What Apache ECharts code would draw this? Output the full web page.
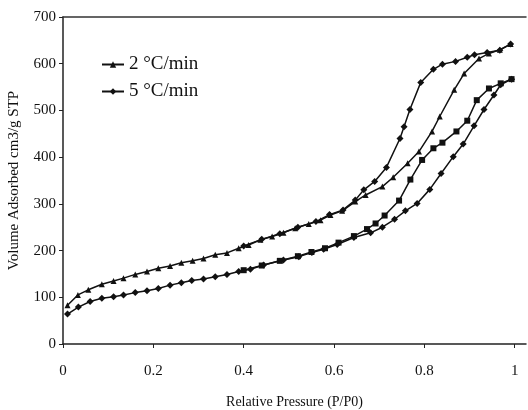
<!DOCTYPE html>
<html>
<head>
<meta charset="utf-8">
<script src="https://cdn.jsdelivr.net/npm/echarts@6/dist/echarts.min.js"></script>
<style>html,body{margin:0;padding:0;background:#fff;}#c{width:528px;height:410px;}</style>
</head>
<body>
<div id="c"></div>
<script>
// Relative pressure (P/P0) and volume adsorbed (cm3/g STP)
var seriesNames = ['2 °C/min', '5 °C/min'];
var xTicks = [0, 0.2, 0.4, 0.6, 0.8, 1];

var a2P = [0.010,0.033,0.056,0.086,0.112,0.134,0.160,0.186,0.211,0.237,0.262,0.287,0.311,0.337,0.363,0.389,0.411,0.437,0.463,0.488,0.514,0.544,0.570,0.592,0.618,0.647,0.670,0.707,0.731,0.763,0.788,0.817,0.834,0.866,0.888,0.921,0.943,0.967,0.991];
var a2V = [83,105,116,128,135,141,149,155,162,167,174,178,183,191,195,205,212,223,230,238,248,257,265,276,285,305,319,337,357,387,412,455,487,544,579,611,622,630,642];

var d2P = [0.991,0.967,0.939,0.911,0.895,0.869,0.840,0.820,0.792,0.768,0.755,0.746,0.716,0.690,0.666,0.647,0.620,0.590,0.560,0.520,0.480,0.440,0.400];
var d2V = [642,629,624,619,614,605,599,588,560,502,465,440,378,348,330,308,287,277,262,250,236,224,210];

var a5P = [0.010,0.034,0.060,0.086,0.112,0.134,0.160,0.186,0.211,0.237,0.262,0.285,0.311,0.337,0.363,0.389,0.415,0.444,0.488,0.522,0.551,0.577,0.607,0.644,0.681,0.707,0.734,0.758,0.784,0.812,0.837,0.864,0.886,0.910,0.932,0.954,0.969,0.993];
var a5V = [64,79,91,98,101,105,110,114,119,126,131,136,139,144,149,155,160,169,180,187,196,203,213,228,238,250,267,285,301,331,365,401,428,467,502,533,555,567];

var d5P = [0.993,0.969,0.943,0.916,0.895,0.871,0.840,0.820,0.795,0.769,0.744,0.712,0.692,0.673,0.644,0.610,0.580,0.550,0.520,0.480,0.440,0.400];
var d5V = [567,558,547,522,478,455,431,419,394,352,307,275,258,246,231,217,205,197,188,178,168,158];

function pairs(xs, ys) { return xs.map(function (x, i) { return [x, ys[i]]; }); }

var serif = 'Liberation Serif';
function mk(name, xs, ys, sym, size) {
  return {
    name: name, type: 'line', data: pairs(xs, ys),
    symbol: sym, symbolSize: size, showSymbol: true,
    lineStyle: { color: '#111', width: 1.5 },
    itemStyle: { color: '#111' },
    animation: false
  };
}

var chart = echarts.init(document.getElementById('c'), null, { renderer: 'canvas' });
chart.setOption({
  backgroundColor: '#fff',
  animation: false,
  grid: { left: 63, right: 2, top: 17, bottom: 66, containLabel: false, outerBoundsMode: 'none' },
  legend: {
    orient: 'vertical', left: 96, top: 50, itemGap: 8,
    itemWidth: 22, itemHeight: 8,
    data: seriesNames,
    textStyle: { fontFamily: serif, fontSize: 19, color: '#111' }
  },
  xAxis: [{
    type: 'value', min: 0, max: 1.025,
    name: 'Relative Pressure (P/P0)', nameLocation: 'middle', nameGap: 51,
    nameTextStyle: { fontFamily: serif, fontSize: 14, color: '#111' },
    axisLine: { show: true, lineStyle: { color: '#222', width: 1.5 } },
    axisTick: { show: true, length: 4, customValues: xTicks, lineStyle: { color: '#222' } },
    axisLabel: { customValues: xTicks, fontFamily: serif, fontSize: 15, color: '#111', margin: 20 },
    splitLine: { show: false }
  }, {
    type: 'value', position: 'top', min: 0, max: 1.025,
    axisLine: { show: true, lineStyle: { color: '#333', width: 1.5 } },
    axisTick: { show: false }, axisLabel: { show: false }, splitLine: { show: false }
  }],
  yAxis: {
    type: 'value', min: 0, max: 700, interval: 100,
    name: 'Volume Adsorbed cm3/g STP', nameLocation: 'middle', nameGap: 41,
    nameTextStyle: { fontFamily: serif, fontSize: 15, color: '#111' },
    axisLine: { show: true, lineStyle: { color: '#222', width: 1.5 } },
    axisTick: { show: true, length: 4, lineStyle: { color: '#222' } },
    axisLabel: { fontFamily: serif, fontSize: 15, color: '#111', margin: 7 },
    splitLine: { show: false }
  },
  series: [
    mk(seriesNames[0], a2P, a2V, 'triangle', 6),
    mk(seriesNames[0], d2P, d2V, 'diamond', 7),
    mk(seriesNames[1], a5P, a5V, 'diamond', 7),
    mk(seriesNames[1], d5P, d5V, 'rect', 6)
  ]
});
</script>
</body>
</html>
